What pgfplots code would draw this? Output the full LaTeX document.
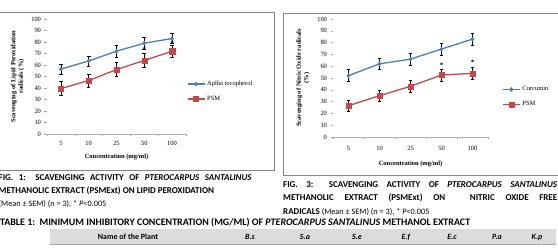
\documentclass[border=0pt]{standalone}
\usepackage{pgfplots}
\usepackage{pgfplotstable}
\pgfplotsset{compat=1.18}
\usepackage{fontspec}
\setmainfont{Liberation Serif}
\newfontfamily\capfont{Carlito}

\definecolor{seriesblue}{HTML}{4A7EBB}
\definecolor{seriesred}{HTML}{BE4B48}
\definecolor{framegray}{HTML}{868686}
\definecolor{headgray}{HTML}{DCDCDC}

% Lipid peroxidation scavenging (%), mean and SEM
\pgfplotstableread{
x y e
0 56.5 4.5
1 63.5 4.5
2 72.0 5.0
3 79.0 5.0
4 83.0 4.5
}\lipidAT
\pgfplotstableread{
x y e
0 39.5 6.0
1 46.5 5.5
2 56.0 6.0
3 64.0 6.0
4 72.0 5.5
}\lipidPSM
% Nitric oxide scavenging (%), mean and SEM
\pgfplotstableread{
x y e
0 52.0 5.0
1 62.0 5.0
2 66.0 5.0
3 74.5 5.0
4 83.0 5.0
}\noCur
\pgfplotstableread{
x y e
0 26.5 5.0
1 35.0 5.0
2 43.0 5.0
3 52.5 5.0
4 54.0 5.0
}\noPSM

\pgfplotsset{
  excelplot/.style={
    scale only axis, clip=false,
    xmin=-0.5, xmax=4.5, ymin=0, ymax=100,
    axis x line*=bottom, axis y line*=left,
    y axis line style={draw=none},
    x axis line style={draw=gray!60, -},
    ytick={0,10,...,100},
    xtick={-0.5,0.5,...,4.5}, xticklabels={},
    extra x ticks={0,1,2,3,4},
    extra x tick labels={5,10,25,50,100},
    extra x tick style={major tick length=0pt},
    tick align=outside, major tick length=2.5bp,
    tick style={draw=gray!70, line width=0.4pt},
    tick label style={font=\fontsize{6.5}{7}\selectfont},
    /pgf/number format/assume math mode=true,
    label style={font=\bfseries\fontsize{6.5}{7.5}\selectfont, align=center},
    legend style={draw=none, fill=none, inner sep=0pt,
      font=\fontsize{6.5}{7}\selectfont, row sep=5bp,
      cells={anchor=west}},
    legend image code/.code={\draw[mark repeat=2,mark phase=2,#1]
      plot coordinates {(0bp,0bp) (8.5bp,0bp) (17bp,0bp)};},
    error bars/y dir=both, error bars/y explicit,
    error bars/error bar style={black, line width=0.5pt},
    error bars/error mark options={rotate=90, black, mark size=1.8bp, line width=0.5pt},
  },
  bluestyle/.style={color=seriesblue, line width=1.3pt, mark=diamond*,
    mark size=2.2bp, mark options={fill=seriesblue, draw=seriesblue, line width=0.3pt}},
  redstyle/.style={color=seriesred, line width=1.3pt, mark=square*,
    mark size=2.6bp, mark options={fill=seriesred, draw=seriesred, line width=0.3pt}},
  starstyle/.style={only marks, mark=asterisk, mark size=1.4bp, black,
    line width=0.35pt, forget plot},
}

\begin{document}
\begin{tikzpicture}
\useasboundingbox (0bp,0bp) rectangle (558bp,252bp);

% chart frames
\draw[framegray, line width=0.6bp] (-2bp,240bp) rectangle (274bp,82bp);
\draw[framegray, line width=0.6bp] (283bp,239bp) rectangle (562bp,77bp);

% Fig. 1: lipid peroxidation
\begin{axis}[excelplot, width=139bp, height=115bp,
  at={(47bp,118bp)}, anchor=south west,
  xlabel={Concentration (mg/ml)},
  ylabel={Scavenging of Lipid Peroxidation\\radicals (\%)},
  xlabel style={at={(axis description cs:0.5,-0.2)}, anchor=center},
  ylabel style={at={(axis description cs:-0.212,0.5)}, anchor=center},
  xticklabel style={yshift=-4bp},
  legend style={at={(1.005,0.37)}, anchor=west}]
\addplot[bluestyle] table[x=x, y=y, y error=e] {\lipidAT};
\addlegendentry{Aplha tocopherol}
\addplot[redstyle] table[x=x, y=y, y error=e] {\lipidPSM};
\addlegendentry{PSM}
\addplot[starstyle] coordinates {(3,74.5) (4,80)};
\end{axis}

% Fig. 3: nitric oxide
\begin{axis}[excelplot, width=155bp, height=118bp,
  at={(333bp,115bp)}, anchor=south west,
  xlabel={Concentration (mg/ml)},
  ylabel={Scavenging of Nitric Oxide radicals\\(\%)},
  xlabel style={at={(axis description cs:0.5,-0.229)}, anchor=center},
  ylabel style={at={(axis description cs:-0.194,0.5)}, anchor=center},
  xticklabel style={yshift=-6bp},
  legend style={at={(1.09,0.34)}, anchor=west}]
\addplot[bluestyle] table[x=x, y=y, y error=e] {\noCur};
\addlegendentry{Curcumin}
\addplot[redstyle] table[x=x, y=y, y error=e] {\noPSM};
\addlegendentry{PSM}
\addplot[starstyle] coordinates {(3,62) (4,64.5)};
\end{axis}

% captions
\begin{scope}[every node/.style={inner sep=0pt, anchor=base west}]
\node[font=\capfont\bfseries\fontsize{9}{11}\selectfont] at (-1.5bp,71bp)
  {\makebox[253bp][s]{FIG. 1: SCAVENGING ACTIVITY OF \textit{PTEROCARPUS SANTALINUS}}};
\node[font=\capfont\bfseries\fontsize{9}{11}\selectfont] at (-1.5bp,58bp)
  {METHANOLIC EXTRACT (PSMExt) ON LIPID PEROXIDATION};
\node[font=\capfont\fontsize{8.3}{10}\selectfont] at (-1.5bp,45.5bp)
  {(Mean ± SEM) (n = 3), * \textit{P}<0.005};

\node[font=\capfont\bfseries\fontsize{9}{11}\selectfont] at (283bp,64bp)
  {\makebox[274bp][s]{FIG. 3: SCAVENGING ACTIVITY OF \textit{PTEROCARPUS SANTALINUS}}};
\node[font=\capfont\bfseries\fontsize{9}{11}\selectfont] at (283bp,51bp)
  {\makebox[274bp][s]{METHANOLIC EXTRACT (PSMExt) ON\hspace{14bp} NITRIC OXIDE FREE}};
\node[font=\capfont\fontsize{8.3}{10}\selectfont] at (283bp,38bp)
  {{\bfseries\fontsize{9}{11}\selectfont RADICALS} (Mean ± SEM) (n = 3), * \textit{P}<0.005};

\node[font=\capfont\bfseries\fontsize{10}{12}\selectfont] at (0bp,27bp)
  {TABLE 1:\ \ MINIMUM INHIBITORY CONCENTRATION (MG/ML) OF \textit{PTEROCARPUS SANTALINUS} METHANOL EXTRACT};
\end{scope}

% table header row
\fill[headgray] (50bp,23bp) rectangle (556bp,8bp);
\draw[gray!70, line width=0.5bp] (50bp,8bp) -- (556bp,8bp);
\begin{scope}[every node/.style={inner sep=0pt, anchor=base},
  font=\capfont\bfseries\fontsize{8}{10}\selectfont]
\node at (128bp,13bp) {Name of the Plant};
\node at (250bp,13bp) {\textit{B.s}};
\node at (305bp,13bp) {\textit{S.a}};
\node at (357bp,13bp) {\textit{S.e}};
\node at (406bp,13bp) {\textit{E.f}};
\node at (452bp,13bp) {\textit{E.c}};
\node at (497bp,13bp) {\textit{P.a}};
\node at (537bp,13bp) {\textit{K.p}};
\end{scope}
\end{tikzpicture}
\end{document}
